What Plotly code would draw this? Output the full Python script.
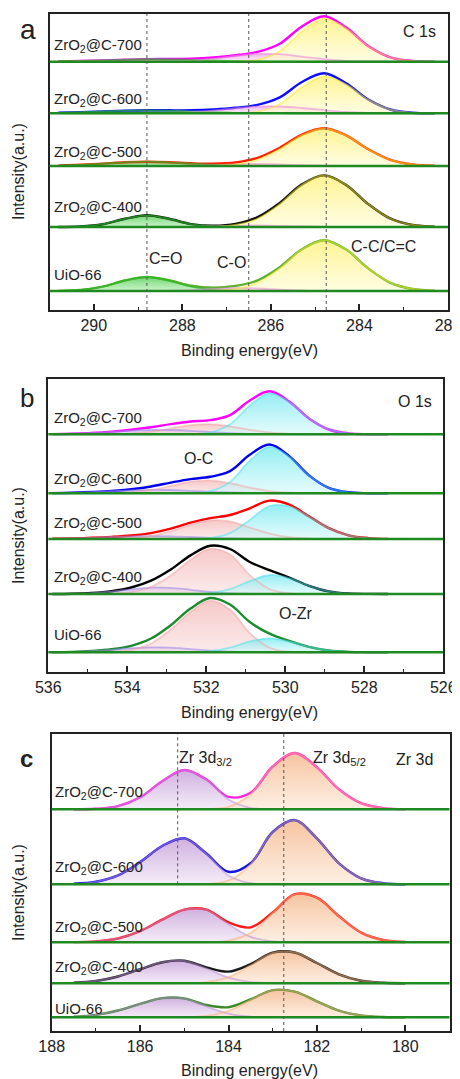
import numpy as np
import plotly.graph_objects as go

# ---------------- data ----------------
sample_labels = ["ZrO<sub>2</sub>@C-700", "ZrO<sub>2</sub>@C-600", "ZrO<sub>2</sub>@C-500",
                 "ZrO<sub>2</sub>@C-400", "UiO-66"]

# C 1s  (intensity in arbitrary units above each sample's baseline)
c1s_energy = [290.8, 290.3, 289.8, 289.3, 288.8, 288.3, 287.8, 287.3, 286.8,
              286.3, 285.8, 285.3, 284.8, 284.3, 283.8, 283.3, 282.8, 282.3]
c1s_cc = [
    [0, 0, 0, 0, 0, 0, 0, 0, 0.1, 1.8, 10.4, 30.2, 43, 33.3, 15.5, 4.3, 0.7, 0.1],
    [0, 0, 0, 0, 0, 0, 0, 0, 0.1, 1.6, 9.0, 26.0, 37, 28.7, 13.4, 3.7, 0.6, 0.1],
    [0, 0, 0, 0, 0, 0, 0, 0.2, 1.5, 6.1, 16.7, 30.6, 37.5, 30.6, 16.7, 6.1, 1.5, 0.2],
    [0, 0, 0, 0, 0, 0, 0, 0.3, 2.0, 8.3, 22.9, 42.1, 51.5, 42.1, 22.9, 8.3, 2.0, 0.3],
    [0, 0, 0, 0, 0, 0, 0, 0.3, 2.0, 8.2, 22.6, 41.4, 50.7, 41.4, 22.6, 8.2, 2.0, 0.3],
]
c1s_co = [
    [0, 0, 0, 0, 0.05, 0.3, 1.1, 3.0, 5.7, 7.8, 7.5, 5.1, 2.5, 0.8, 0.2, 0, 0, 0],
    [0, 0, 0, 0, 0.1, 0.3, 1.1, 2.7, 4.9, 6.7, 6.8, 5.3, 3.1, 1.3, 0.4, 0.1, 0, 0],
    [0, 0, 0, 0, 0, 0.1, 0.3, 0.85, 1.6, 2.0, 1.6, 0.85, 0.3, 0.1, 0, 0, 0, 0],
    [0, 0, 0, 0, 0, 0, 0.1, 0.5, 1.1, 1.5, 1.1, 0.5, 0.1, 0, 0, 0, 0, 0],
    [0, 0, 0, 0, 0, 0.2, 0.8, 2.0, 3.0, 2.5, 1.25, 0.36, 0.06, 0, 0, 0, 0, 0],
]
c1s_c_double_o = [
    [0.3, 0.7, 1.3, 2.0, 2.5, 2.4, 1.9, 1.2, 0.6, 0.2, 0.1, 0, 0, 0, 0, 0, 0, 0],
    [0.5, 1.1, 1.9, 2.7, 3.0, 2.7, 1.9, 1.1, 0.5, 0.2, 0.1, 0, 0, 0, 0, 0, 0, 0],
    [0.4, 1.2, 2.4, 3.7, 4.3, 3.7, 2.4, 1.2, 0.4, 0.1, 0, 0, 0, 0, 0, 0, 0, 0],
    [0.0, 0.5, 2.8, 8.2, 11.7, 8.2, 2.8, 0.5, 0.0, 0, 0, 0, 0, 0, 0, 0, 0, 0],
    [0.1, 1.0, 4.4, 10.5, 14, 10.5, 4.4, 1.0, 0.1, 0, 0, 0, 0, 0, 0, 0, 0, 0],
]

# O 1s
o1s_energy = [535.9, 535.4, 534.9, 534.4, 533.9, 533.4, 532.9, 532.4, 531.9,
              531.4, 530.9, 530.4, 529.9, 529.4, 528.9, 528.4, 527.9, 527.4]
o1s_ozr = [
    [0, 0, 0, 0, 0, 0, 0, 0.1, 1.7, 10.0, 28.8, 41, 32.3, 15.7, 4.8, 0.9, 0.1, 0],
    [0, 0, 0, 0, 0, 0, 0, 0.1, 2.0, 11.3, 32.6, 46.5, 36.6, 17.8, 5.4, 1.0, 0.1, 0],
    [0, 0, 0, 0, 0, 0, 0, 0.1, 1.0, 5.9, 19.0, 33.0, 32.6, 22.3, 10.8, 3.7, 0.9, 0.1],
    [0, 0, 0, 0, 0, 0, 0, 0.1, 0.9, 4.8, 12.9, 19, 15.8, 8.2, 2.6, 0.5, 0.1, 0],
    [0, 0, 0, 0, 0, 0, 0, 0.1, 1.05, 4.6, 10.9, 14, 10.8, 5.4, 1.8, 0.4, 0.1, 0],
]
o1s_oc = [
    [0, 0, 0.05, 0.2, 0.8, 2.6, 5.9, 9.2, 10.2, 8.0, 4.5, 1.8, 0.5, 0.1, 0, 0, 0, 0],
    [0, 0, 0.1, 0.2, 1.1, 3.3, 7.4, 11.6, 12.9, 10.1, 5.6, 2.2, 0.6, 0.1, 0, 0, 0, 0],
    [0, 0, 0, 0.15, 0.8, 2.9, 7.6, 14.2, 18.7, 17.5, 11.5, 5.4, 1.8, 0.4, 0.1, 0, 0, 0],
    [0, 0, 0.05, 0.4, 1.9, 7.0, 18.4, 34.3, 45.3, 39.5, 18.9, 4.9, 0.7, 0, 0, 0, 0, 0],
    [0, 0, 0.1, 0.5, 2.4, 8.8, 22.5, 40.5, 51.6, 42.6, 19.2, 4.6, 0.6, 0, 0, 0, 0, 0],
]
o1s_third = [
    [0.2, 0.6, 1.4, 2.5, 3.7, 4.4, 4.3, 3.5, 2.25, 1.2, 0.5, 0.2, 0, 0, 0, 0, 0, 0],
    [0.2, 0.6, 1.2, 2.1, 3.0, 3.5, 3.3, 2.5, 1.6, 0.8, 0.3, 0.1, 0, 0, 0, 0, 0, 0],
    [0.2, 0.6, 1.2, 2.0, 2.7, 3.0, 2.7, 2.0, 1.2, 0.6, 0.2, 0, 0, 0, 0, 0, 0, 0],
    [0, 0.2, 0.9, 2.4, 4.6, 6.3, 6.1, 4.2, 2.0, 0.7, 0.2, 0, 0, 0, 0, 0, 0, 0],
    [0.1, 0.4, 1.2, 2.5, 4.1, 5.0, 4.6, 3.1, 1.6, 0.6, 0.2, 0, 0, 0, 0, 0, 0, 0],
]

# Zr 3d
zr_energy = [187.5, 187.0, 186.5, 186.0, 185.5, 185.0, 184.5, 184.0,
             183.5, 183.0, 182.5, 182.0, 181.5, 181.0, 180.5, 180.0]
zr_3d32 = [
    [0, 0.5, 3.1, 12.0, 28.0, 39.3, 29.6, 9.9, 1.4, 0.1, 0, 0, 0, 0, 0, 0],
    [0.5, 2.5, 8.9, 22.2, 38.3, 46, 30.5, 8.9, 1.1, 0.1, 0, 0, 0, 0, 0, 0],
    [0.2, 0.9, 3.8, 11.1, 22.6, 32.7, 32.5, 18.2, 5.5, 0.9, 0.1, 0, 0, 0, 0, 0],
    [0.6, 2.3, 6.8, 14.1, 21.1, 22.5, 14.8, 5.6, 1.2, 0.2, 0, 0, 0, 0, 0, 0],
    [0.6, 2.4, 6.8, 13.5, 19.2, 18.7, 10.9, 3.7, 0.7, 0.1, 0, 0, 0, 0, 0, 0],
]
zr_3d52 = [
    [0, 0, 0, 0, 0, 0, 0.2, 2.5, 15.1, 42.7, 56.3, 42.1, 20.0, 6.1, 1.2, 0.1],
    [0, 0, 0, 0, 0, 0, 0.3, 3.6, 20.0, 52.2, 64.2, 45.9, 20.9, 6.0, 1.1, 0.1],
    [0, 0, 0, 0, 0, 0, 0.2, 1.7, 9.4, 29.0, 48.0, 44.6, 26.1, 9.7, 2.3, 0.35],
    [0, 0, 0, 0, 0, 0.1, 1.2, 6.1, 18.0, 30.5, 30.8, 20.3, 9.0, 2.6, 0.5, 0.1],
    [0, 0, 0, 0, 0, 0.2, 1.4, 6.4, 17.2, 27.1, 25.6, 16.0, 6.7, 1.9, 0.3, 0],
]

# ---------------- layout helpers ----------------
W, H = 460, 1079
PAGE_OFFSET = 8  # default body margin of the page that holds the figure
FONT = "Liberation Sans, Arial, sans-serif"


def fx(px):
    return (px - PAGE_OFFSET) / W


def fy(py):
    return 1 - (py - PAGE_OFFSET) / H


# vertical offsets (layout) of each sample's baseline inside each panel
a_offsets = [248.3, 196.7, 144.0, 83.0, 19.0]
b_offsets = [237.7, 178.7, 133.0, 78.0, 19.7]
c_offsets = [221.7, 146.7, 88.7, 47.7, 13.7]

a_env_colors = ["#ff00ff", "#1010ff", "#ff2200", "#111111", "#5fb030"]
b_env_colors = ["#ff00ff", "#0000ee", "#ff0000", "#000000", "#1a8c2e"]
c_env_colors = ["#ff22dd", "#1515e0", "#ff1a1a", "#1a1a1a", "#3a8a2a"]

# (values, fill bottom colour, fill top colour, outline colour)
panels = [
    dict(xa="x", ya="y", energy=c1s_energy, offsets=a_offsets, env_colors=a_env_colors,
         comps=[(c1s_c_double_o, "rgba(160,232,160,0.55)", "rgba(60,200,60,0.75)", "rgba(40,185,40,0.7)"),
                (c1s_co, "rgba(248,210,242,0.5)", "rgba(230,140,220,0.6)", "rgba(235,140,220,0.6)"),
                (c1s_cc, "rgba(255,252,215,0.7)", "rgba(255,240,110,0.75)", "rgba(245,235,40,0.55)")]),
    dict(xa="x2", ya="y2", energy=o1s_energy, offsets=b_offsets, env_colors=b_env_colors,
         comps=[(o1s_third, "rgba(220,210,248,0.5)", "rgba(165,145,235,0.6)", "rgba(160,140,235,0.6)"),
                (o1s_oc, "rgba(250,222,222,0.6)", "rgba(242,170,170,0.65)", "rgba(240,160,160,0.5)"),
                (o1s_ozr, "rgba(212,248,250,0.6)", "rgba(100,230,238,0.7)", "rgba(80,225,235,0.55)")]),
    dict(xa="x3", ya="y3", energy=zr_energy, offsets=c_offsets, env_colors=c_env_colors,
         comps=[(zr_3d32, "rgba(240,228,245,0.7)", "rgba(195,155,215,0.8)", "rgba(185,140,215,0.55)"),
                (zr_3d52, "rgba(253,232,214,0.7)", "rgba(244,180,135,0.8)", "rgba(245,175,120,0.55)")]),
]

fig = go.Figure()
for p in panels:
    e = np.array(p["energy"])
    for i, off in enumerate(p["offsets"]):
        # filled components
        for vals, c_bot, c_top, _ in p["comps"]:
            v = np.array(vals[i], dtype=float)
            fig.add_trace(go.Scatter(x=e, y=np.full_like(v, off), mode="lines",
                                     line=dict(width=0), xaxis=p["xa"], yaxis=p["ya"],
                                     hoverinfo="skip", showlegend=False))
            fig.add_trace(go.Scatter(x=e, y=off + v, mode="lines", fill="tonexty",
                                     fillcolor=c_top,
                                     fillgradient=dict(type="vertical",
                                                       colorscale=[[0, c_bot], [1, c_top]]),
                                     line=dict(width=0, shape="spline"),
                                     xaxis=p["xa"], yaxis=p["ya"], showlegend=False))
        # envelope = sum of components
        env = np.sum([np.array(c[0][i], dtype=float) for c in p["comps"]], axis=0)
        fig.add_trace(go.Scatter(x=e, y=off + env, mode="lines",
                                 line=dict(width=2.4, color=p["env_colors"][i], shape="spline"),
                                 xaxis=p["xa"], yaxis=p["ya"], showlegend=False))
        # component outlines over the envelope
        for vals, _, _, linec in p["comps"]:
            v = np.array(vals[i], dtype=float)
            fig.add_trace(go.Scatter(x=e, y=off + v, mode="lines",
                                     line=dict(width=1.8, color=linec, shape="spline"),
                                     xaxis=p["xa"], yaxis=p["ya"], showlegend=False))

axis_common = dict(showline=True, mirror=True, linecolor="#222", linewidth=2,
                   showgrid=False, zeroline=False, automargin=False)
xcommon = dict(axis_common, ticks="inside", ticklen=6, tickwidth=1.5, tickcolor="#222",
               dtick=2, minor=dict(dtick=1, ticks="inside", ticklen=3.5, tickwidth=1.2,
                                   tickcolor="#222"),
               tickfont=dict(family=FONT, size=16, color="#222"))
ycommon = dict(axis_common, ticks="", showticklabels=False)

fig.update_layout(
    width=W, height=H, margin=dict(l=0, r=0, t=0, b=0, autoexpand=False),
    paper_bgcolor="white", plot_bgcolor="white", showlegend=False,
    xaxis=dict(xcommon, domain=[fx(49.5), fx(448)], range=[291, 282], anchor="y"),
    yaxis=dict(ycommon, domain=[fy(310), fy(14)], range=[0, 296], anchor="x"),
    xaxis2=dict(xcommon, domain=[fx(48.3), fx(443.3)], range=[536, 526], anchor="y2"),
    yaxis2=dict(ycommon, domain=[fy(672), fy(379)], range=[0, 293], anchor="x2"),
    xaxis3=dict(xcommon, domain=[fx(51.7), fx(449.5)], range=[188, 179], anchor="y3"),
    yaxis3=dict(ycommon, domain=[fy(1031), fy(734)], range=[0, 297], anchor="x3"),
)

shapes = []
# green baselines
for xa, ya, offs in [("x", "y", a_offsets), ("x2", "y2", b_offsets), ("x3", "y3", c_offsets)]:
    for off in offs:
        shapes.append(dict(type="line", xref=xa + " domain", yref=ya, x0=0, x1=1, y0=off, y1=off,
                           line=dict(color="#1f8a1f", width=2.5), layer="above"))
# dotted reference lines
for xv in [288.8, 286.5, 284.75]:
    shapes.append(dict(type="line", xref="x", yref="y domain", x0=xv, x1=xv, y0=0, y1=1,
                       line=dict(color="#555", width=1, dash="dot"), layer="above"))
shapes.append(dict(type="line", xref="x3", yref="y3", x0=185.15, x1=185.15, y0=c_offsets[1], y1=297,
                   line=dict(color="#555", width=1, dash="dot"), layer="above"))
shapes.append(dict(type="line", xref="x3", yref="y3 domain", x0=182.75, x1=182.75, y0=0, y1=1,
                   line=dict(color="#555", width=1, dash="dot"), layer="above"))
fig.update_layout(shapes=shapes)

annotations = []


def ann(text, x, y, size=15, xanchor="center", bold=False, angle=0):
    annotations.append(dict(text=("<b>%s</b>" % text) if bold else text,
                            x=fx(x), y=fy(y), xref="paper", yref="paper",
                            xanchor=xanchor, yanchor="middle", showarrow=False,
                            textangle=angle,
                            font=dict(family=FONT, size=size, color="#222")))


# sample labels
for lab, yy in zip(sample_labels, [46, 100, 153, 207, 274]):
    ann(lab, 52, yy, xanchor="left")
for lab, yy in zip(sample_labels, [419, 479, 523, 577, 634]):
    ann(lab, 52, yy, xanchor="left")
for lab, yy in zip(sample_labels, [792, 867, 927, 967, 1008]):
    ann(lab, 53, yy, xanchor="left")

# panel letters
ann("a", 28, 30, size=28)
ann("b", 27, 398, size=26)
ann("c", 26, 758, size=24, bold=True)

# peak labels
ann("C 1s", 419, 32, size=16)
ann("C=O", 165, 259, size=16)
ann("C-O", 231, 262, size=16)
ann("C-C/C=C", 383, 247, size=16)
ann("O 1s", 415, 401, size=16)
ann("O-C", 198, 459, size=16)
ann("O-Zr", 296, 613, size=16)
ann("Zr 3d<sub>3/2</sub>", 177, 758, size=16, xanchor="left")
ann("Zr 3d<sub>5/2</sub>", 311, 758, size=16, xanchor="left")
ann("Zr 3d", 414, 759, size=16)

# axis titles
for yy in [350, 712, 1070]:
    ann("Binding energy(eV)", 249, yy, size=16)
for yy in [172, 536, 893]:
    ann("Intensity(a.u.)", 18, yy, size=16, angle=-90)

fig.update_layout(annotations=annotations)
fig.write_html("out.html")
